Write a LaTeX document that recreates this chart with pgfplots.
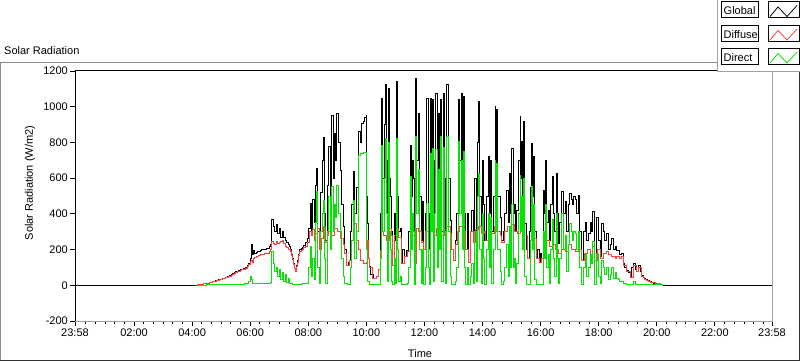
\documentclass[border=0pt]{standalone}
\usepackage{pgfplots}
\pgfplotsset{compat=1.18}
\usepackage{pgfplotstable}
\usepackage{fontspec}
\setmainfont{Liberation Sans}

\pgfplotstableread{
h v
-0.0333 0
4.15 0
4.2 3
4.25 4
4.3 5
4.35 6
4.4 8
4.45 9
4.5 11
4.55 13
4.6 15
4.65 17
4.7 20
4.75 22
4.8 25
4.85 28
4.9 30
4.95 33
5.0 35
5.05 38
5.1 40
5.15 44
5.2 48
5.25 52
5.3 55
5.35 60
5.4 65
5.45 70
5.5 75
5.55 80
5.6 85
5.65 88
5.7 90
5.75 93
5.8 95
5.85 100
5.9 110
5.95 125
6.0 150
6.03 230
6.07 170
6.12 195
6.16 180
6.2 185
6.25 188
6.3 190
6.35 195
6.4 198
6.45 200
6.5 202
6.55 204
6.6 205
6.65 215
6.7 230
6.74 370
6.8 330
6.85 300
6.9 340
6.95 290
7.0 320
7.05 270
7.1 300
7.15 270
7.2 250
7.25 240
7.3 230
7.34 215
7.38 200
7.42 170
7.45 150
7.49 120
7.52 95
7.56 80
7.59 110
7.62 140
7.66 175
7.7 200
7.75 205
7.8 210
7.85 225
7.9 240
7.97 260
8.02 320
8.07 460
8.11 300
8.15 480
8.2 350
8.25 560
8.29 654
8.33 300
8.37 200
8.42 520
8.47 700
8.52 828
8.56 400
8.6 250
8.65 560
8.7 780
8.75 500
8.81 953
8.85 600
8.9 850
8.94 700
8.98 963
9.03 800
9.09 645
9.15 450
9.21 327
9.26 200
9.32 112
9.37 130
9.41 140
9.46 300
9.5 450
9.55 636
9.6 400
9.65 550
9.72 860
9.78 800
9.84 908
9.9 920
9.95 940
9.99 953
10.01 500
10.03 346
10.07 150
10.1 103
10.15 60
10.25 40
10.35 50
10.4 90
10.47 196
10.5 400
10.53 1047
10.57 600
10.61 900
10.64 1122
10.68 700
10.72 300
10.75 1103
10.79 600
10.83 500
10.87 300
10.9 110
10.95 400
11.0 250
11.04 1140
11.08 500
11.12 300
11.16 320
11.2 123
11.24 200
11.3 160
11.39 196
11.45 300
11.5 785
11.54 500
11.58 700
11.62 600
11.66 123
11.7 1159
11.74 700
11.79 963
11.83 500
11.88 250
11.93 470
11.97 200
12.02 400
12.08 1047
12.12 400
12.17 200
12.22 1047
12.25 600
12.27 1040
12.31 300
12.35 700
12.39 1075
12.43 400
12.48 963
12.52 500
12.56 1040
12.6 300
12.65 1075
12.7 600
12.73 200
12.77 1122
12.82 600
12.88 364
12.93 200
12.99 140
13.05 250
13.11 400
13.17 1040
13.22 700
13.28 1075
13.31 500
13.34 1057
13.38 400
13.42 200
13.47 400
13.52 130
13.57 300
13.63 420
13.68 250
13.73 600
13.78 300
13.82 800
13.86 1028
13.9 500
13.95 300
13.99 700
14.03 450
14.08 250
14.13 500
14.2 720
14.23 400
14.26 700
14.31 300
14.36 500
14.43 1000
14.46 600
14.49 982
14.53 500
14.6 382
14.66 250
14.72 300
14.77 400
14.83 533
14.88 350
14.92 627
14.95 400
15.0 767
15.05 400
15.1 450
15.14 300
15.18 420
15.24 700
15.29 944
15.32 600
15.35 804
15.38 500
15.4 916
15.45 346
15.5 200
15.55 150
15.6 300
15.64 550
15.69 795
15.72 500
15.75 720
15.8 300
15.86 150
15.9 200
15.95 130
16.0 180
16.04 150
16.09 533
16.13 400
16.17 701
16.21 350
16.26 420
16.3 250
16.35 450
16.4 607
16.44 400
16.48 300
16.53 627
16.57 400
16.61 233
16.66 350
16.72 523
16.78 400
16.84 470
16.9 300
16.95 450
17.0 514
17.05 480
17.1 450
17.13 500
17.2 480
17.25 400
17.3 505
17.35 300
17.41 140
17.47 300
17.53 350
17.58 250
17.64 290
17.7 350
17.75 300
17.79 411
17.84 300
17.87 140
17.93 380
17.98 250
18.05 160
18.1 346
18.15 300
18.2 250
18.27 290
18.33 200
18.39 230
18.45 262
18.5 200
18.56 220
18.62 196
18.68 196
18.73 170
18.79 178
18.85 121
18.9 100
18.96 84
19.02 70
19.08 47
19.14 100
19.19 121
19.25 90
19.3 80
19.36 112
19.42 80
19.48 56
19.53 45
19.56 40
19.59 37
19.62 34
19.65 30
19.68 27
19.7 25
19.74 22
19.77 20
19.81 17
19.85 15
19.9 13
19.95 12
20.0 11
20.05 10
20.08 7
20.12 5
20.16 3
20.2 0
23.9667 0
}\globaltab

\pgfplotstableread{
h v
4.15 0
4.2 3
4.25 4
4.3 5
4.35 6
4.4 8
4.45 9
4.5 10
4.55 12
4.6 14
4.65 16
4.7 19
4.75 21
4.8 23
4.85 26
4.9 28
4.95 31
5.0 33
5.05 36
5.1 38
5.15 42
5.2 45
5.25 49
5.3 52
5.35 57
5.4 62
5.45 67
5.5 72
5.55 76
5.6 80
5.65 84
5.7 86
5.75 88
5.8 90
5.85 95
5.9 105
5.95 118
6.0 135
6.03 140
6.07 130
6.12 150
6.16 155
6.2 160
6.25 162
6.3 165
6.35 170
6.4 172
6.45 175
6.5 176
6.55 178
6.6 180
6.65 190
6.7 200
6.74 243
6.8 235
6.85 230
6.9 245
6.95 235
7.0 240
7.05 245
7.1 250
7.15 235
7.2 220
7.25 210
7.3 200
7.38 190
7.42 165
7.45 145
7.49 118
7.52 95
7.56 80
7.59 105
7.62 130
7.66 165
7.7 190
7.75 195
7.8 200
7.85 210
7.9 220
7.97 240
8.05 300
8.1 280
8.15 310
8.2 250
8.25 290
8.3 320
8.37 200
8.45 260
8.52 330
8.6 240
8.65 280
8.7 300
8.8 280
8.9 320
9.0 300
9.1 260
9.2 230
9.26 180
9.32 112
9.41 140
9.5 250
9.55 346
9.65 250
9.72 200
9.8 140
9.9 123
9.99 130
10.03 250
10.07 150
10.1 100
10.2 40
10.35 50
10.4 90
10.47 196
10.53 300
10.6 280
10.7 250
10.8 320
10.87 280
10.9 110
10.95 280
11.05 320
11.12 270
11.2 123
11.3 160
11.4 190
11.5 300
11.6 280
11.66 123
11.72 320
11.8 300
11.88 240
11.95 200
12.05 300
12.15 200
12.22 300
12.3 280
12.4 320
12.5 290
12.6 280
12.7 310
12.77 330
12.88 290
12.93 200
12.99 140
13.05 230
13.12 300
13.2 330
13.3 300
13.42 200
13.52 130
13.6 300
13.68 240
13.75 310
13.85 330
13.95 290
14.05 300
14.1 250
14.2 320
14.3 290
14.4 330
14.5 300
14.6 280
14.66 240
14.75 300
14.85 330
14.95 300
15.0 340
15.1 300
15.2 290
15.3 320
15.4 300
15.45 280
15.55 150
15.65 250
15.75 260
15.86 150
15.95 130
16.04 150
16.1 230
16.2 250
16.3 220
16.4 230
16.5 200
16.61 180
16.72 200
16.84 190
16.95 230
17.05 200
17.2 190
17.3 200
17.41 140
17.5 180
17.6 200
17.7 170
17.79 220
17.87 140
17.95 200
18.05 150
18.15 180
18.27 190
18.35 170
18.45 160
18.56 150
18.62 160
18.73 150
18.79 160
18.85 110
18.96 80
19.08 45
19.19 110
19.3 75
19.36 100
19.48 50
19.53 42
19.59 35
19.65 28
19.7 22
19.77 18
19.85 14
19.95 11
20.05 9
20.12 5
20.2 0
}\diffusetab

\pgfplotstableread{
h v
4.2 0
4.5 2
5.0 3
5.5 5
5.8 8
5.95 20
6.0 47
6.03 30
6.07 10
6.3 8
6.6 10
6.7 15
6.74 187
6.8 120
6.85 80
6.9 100
6.95 50
7.0 90
7.05 30
7.1 70
7.15 20
7.2 60
7.25 15
7.3 40
7.35 10
7.45 5
7.6 3
7.8 8
7.95 10
8.02 100
8.07 215
8.11 50
8.15 150
8.2 30
8.25 350
8.29 523
8.33 100
8.37 10
8.42 300
8.47 400
8.52 477
8.56 150
8.6 10
8.65 300
8.7 500
8.75 200
8.81 551
8.85 300
8.9 450
8.94 380
8.98 560
9.03 400
9.09 300
9.15 150
9.21 50
9.26 10
9.35 5
9.45 100
9.5 250
9.55 477
9.6 150
9.65 300
9.72 729
9.8 740
9.9 745
9.99 740
10.01 200
10.05 20
10.1 5
10.45 5
10.5 150
10.53 785
10.57 300
10.61 600
10.64 820
10.68 400
10.72 20
10.75 800
10.79 300
10.83 200
10.87 20
10.9 5
10.95 150
11.0 10
11.04 820
11.08 200
11.12 20
11.16 50
11.2 5
11.3 5
11.4 10
11.45 100
11.5 607
11.54 200
11.58 400
11.62 300
11.66 5
11.7 832
11.74 400
11.79 650
11.83 200
11.88 10
11.93 200
11.97 5
12.02 100
12.08 460
12.12 100
12.17 5
12.22 740
12.25 300
12.27 767
12.31 20
12.35 400
12.39 760
12.43 100
12.48 650
12.52 200
12.56 832
12.6 20
12.65 770
12.7 300
12.73 10
12.77 832
12.82 300
12.88 50
12.93 5
12.99 3
13.05 20
13.11 100
13.17 803
13.22 400
13.28 700
13.31 200
13.34 750
13.38 100
13.42 5
13.47 100
13.52 3
13.57 50
13.63 120
13.68 10
13.73 300
13.78 20
13.82 500
13.86 625
13.9 200
13.95 10
13.99 400
14.03 150
14.08 5
14.13 200
14.2 400
14.23 100
14.26 380
14.31 10
14.36 200
14.43 701
14.46 300
14.49 680
14.53 200
14.6 80
14.66 5
14.72 20
14.77 100
14.83 230
14.88 50
14.92 330
14.95 100
15.0 450
15.05 100
15.1 150
15.14 10
15.18 120
15.24 400
15.29 617
15.32 300
15.35 500
15.38 200
15.4 600
15.45 50
15.5 5
15.6 5
15.64 250
15.69 551
15.72 200
15.75 450
15.8 30
15.86 3
16.04 3
16.09 300
16.13 150
16.17 450
16.21 100
16.26 170
16.3 10
16.35 200
16.4 370
16.44 150
16.48 50
16.53 400
16.57 150
16.61 10
16.66 150
16.72 402
16.78 200
16.84 280
16.9 80
16.95 230
17.0 346
17.05 300
17.1 250
17.13 300
17.2 290
17.25 200
17.3 300
17.35 100
17.41 5
17.47 100
17.53 170
17.58 50
17.64 100
17.7 170
17.75 120
17.79 243
17.84 100
17.87 5
17.93 180
17.98 50
18.05 10
18.1 140
18.15 100
18.2 60
18.27 100
18.33 30
18.39 60
18.45 100
18.5 40
18.56 70
18.62 40
18.68 30
18.73 20
18.79 20
18.85 10
18.96 5
19.0 3
19.19 20
19.25 5
19.4 3
19.6 2
20.0 2
20.2 0
}\directtab

\definecolor{diffred}{RGB}{255,64,64}
\definecolor{dirgreen}{RGB}{0,230,0}
\definecolor{framegray}{RGB}{140,140,140}
\definecolor{boxgray}{RGB}{160,160,160}

\begin{document}
\begin{tikzpicture}
\path[use as bounding box] (0,0) rectangle (800bp,361bp);
% outer frame
\begin{scope}[x=1bp,y=1bp]
\draw[framegray,line width=1bp] (0.5,1) -- (0.5,298.5) -- (799,298.5);
\draw[black!80,line width=1bp] (0.5,0.5) -- (799.5,0.5) -- (799.5,298.5);
\node[anchor=base west,inner sep=0pt,font=\fontsize{11bp}{13bp}\selectfont] at (4,307) {Solar Radiation};
\end{scope}
\begin{axis}[
  at={(75bp,40bp)}, anchor=south west,
  scale only axis, width=697bp, height=250bp,
  xmin=-0.0333, xmax=23.9667, ymin=-200, ymax=1200,
  clip mode=individual,
  axis line style={boxgray,line width=1bp},
  tick align=outside, xtick pos=bottom, ytick pos=left,
  major tick length=5bp, minor tick length=3bp,
  tick style={black,line width=0.8bp},
  xtick={-0.0333,2,4,6,8,10,12,14,16,18,20,22,23.9667},
  xticklabels={23:58,02:00,04:00,06:00,08:00,10:00,12:00,14:00,16:00,18:00,20:00,22:00,23:58},
  minor xtick={0.3333,0.6667,1,1.3333,1.6667,2.3333,2.6667,3,3.3333,3.6667,4.3333,4.6667,5,5.3333,5.6667,6.3333,6.6667,7,7.3333,7.6667,8.3333,8.6667,9,9.3333,9.6667,10.3333,10.6667,11,11.3333,11.6667,12.3333,12.6667,13,13.3333,13.6667,14.3333,14.6667,15,15.3333,15.6667,16.3333,16.6667,17,17.3333,17.6667,18.3333,18.6667,19,19.3333,19.6667,20.3333,20.6667,21,21.3333,21.6667,22.3333,22.6667,23,23.3333,23.6667},
  ytick={-200,0,200,400,600,800,1000,1200},
  /pgf/number format/assume math mode=true,
  /pgf/number format/1000 sep={},
  tick label style={font=\fontsize{11bp}{13bp}\selectfont, black},
  yticklabel style={inner xsep=2bp},
  xticklabel style={inner ysep=3bp},
  ylabel={Solar Radiation (W/m2)},
  ylabel style={at={(axis description cs:-0.0646,0.552)}, anchor=center, rotate=0, font=\fontsize{11bp}{13bp}\selectfont},
  xlabel={Time},
  xlabel style={at={(axis description cs:0.495,-0.132)}, anchor=center, font=\fontsize{11bp}{13bp}\selectfont},
]
\addplot[black, line width=0.9bp, const plot mark left] table[x=h,y=v] {\globaltab};
\addplot[diffred, line width=0.9bp, const plot mark left] table[x=h,y=v] {\diffusetab};
\addplot[dirgreen, line width=0.9bp, const plot mark left] table[x=h,y=v] {\directtab};
\draw[black,line width=1bp] (rel axis cs:0,0) -- (rel axis cs:0,1) -- (rel axis cs:1,1);
\end{axis}
% legend panel
\begin{scope}[x=1bp,y=1bp]
\fill[white] (717,289) rectangle (800,361);
\draw[boxgray,line width=1bp] (717.5,361) -- (717.5,289.5) -- (800,289.5);
\foreach \lab/\col/\yt in {Global/black/359, Diffuse/diffred/335.5, Direct/dirgreen/312.5}{
  \draw[black,line width=1bp,fill=white] (721.5,\yt) rectangle (758.5,\yt-16);
  \node[anchor=base west,inner sep=0pt,font=\fontsize{11bp}{13bp}\selectfont] at (723.5,\yt-12.5) {\lab};
  \draw[black,line width=1bp,fill=white] (768.5,\yt) rectangle (799.5,\yt-16);
  \draw[\col,line width=0.8bp] (770,\yt-14.5) -- (778,\yt-5) -- (787,\yt-14.5) -- (797,\yt-3.5);
}
\end{scope}
\end{tikzpicture}
\end{document}
